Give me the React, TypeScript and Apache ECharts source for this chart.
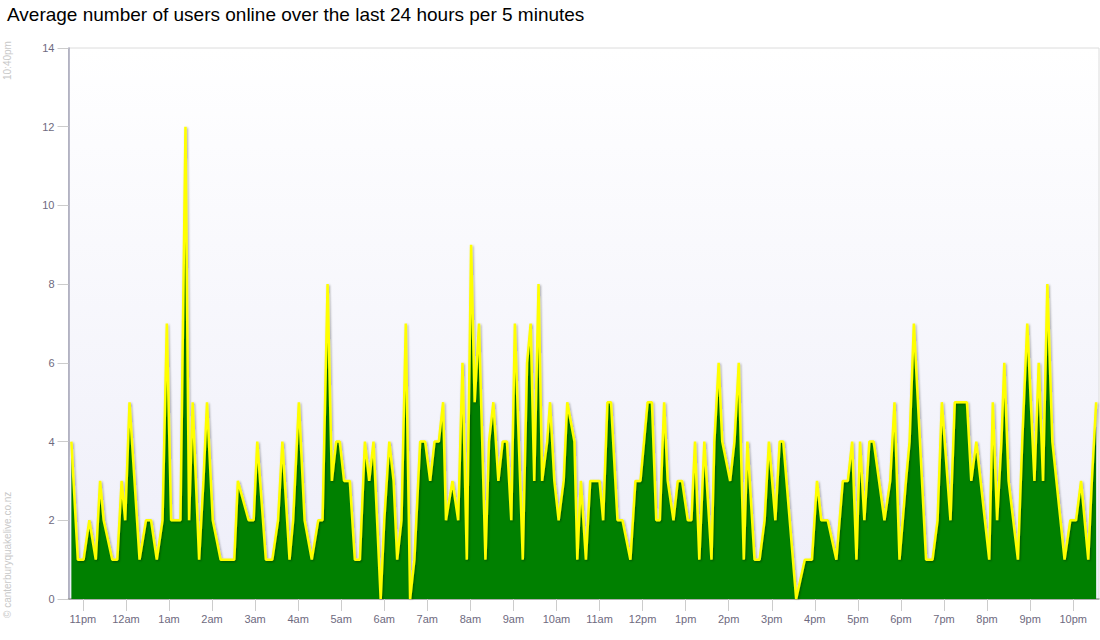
import React, { useRef, useEffect } from "react";
import * as echarts from "echarts";

// minutes after 10:40pm (start of the 24h window) and average users online
const MINUTES = [
  4, 13, 21, 29, 38, 44, 49, 61, 68, 74, 79, 85, 99, 108, 115, 123, 131, 137, 143, 156, 163, 168, 173,
  182, 188, 193, 201, 212, 231, 236, 251, 258, 263, 275, 284, 292, 298, 308, 313, 321, 329, 339, 348, 354,
  361, 367, 373, 378, 384, 392, 399, 406, 413, 419, 425, 435, 440, 447, 453, 458, 464, 470, 476, 482, 490,
  497, 504, 510, 516, 522, 526, 535,
  543, 549, 555, 561, 566, 572, 581, 586, 592, 599, 605, 611, 617, 622, 633, 639, 644, 649, 655, 660, 667,
  671, 677, 683, 690, 695, 705, 709, 714,
  721, 727, 740, 745, 751, 756, 765, 772, 783, 790, 797, 802, 807, 813, 819, 824, 830, 835, 843, 849, 855,
  863, 868, 873, 879, 886, 896,
  900, 906, 911, 922, 928, 934, 941, 946, 956, 963, 970, 976, 985, 991, 996, 1014, 1026, 1036, 1043, 1049,
  1058, 1070, 1079,
  1086, 1092, 1098, 1103, 1109, 1116, 1122, 1137, 1145, 1151, 1158, 1167, 1172, 1178, 1195, 1204, 1211,
  1217, 1229, 1235, 1252, 1258,
  1265, 1283, 1288, 1294, 1300, 1304, 1310, 1323, 1329, 1336, 1346, 1352, 1358, 1364, 1371, 1388, 1396,
  1404, 1411, 1421, 1426, 1432,
];

const USERS = [
  4, 1, 1, 2, 1, 3, 2, 1, 1, 3, 2, 5, 1, 2, 2, 1, 2, 7, 2, 2, 12, 2, 5,
  1, 3, 5, 2, 1, 1, 3, 2, 2, 4, 1, 1, 2, 4, 1, 2, 5, 2, 1, 2, 2,
  8, 3, 4, 4, 3, 3, 1, 1, 4, 3, 4, 0, 2, 4, 3, 1, 2, 7, 0, 1, 4, 4, 3, 4, 4, 5, 2, 3,
  2, 6, 1, 9, 5, 7, 1, 4, 5, 3, 4, 4, 2, 7, 1, 6, 7, 3, 8, 3, 4, 5, 3, 2, 3, 5, 4, 1, 3,
  1, 3, 3, 2, 5, 5, 2, 2, 1, 3, 3, 4, 5, 5, 2, 2, 5, 3, 2, 3, 3, 2, 2, 4, 1, 4, 1,
  4, 6, 4, 3, 4, 6, 1, 4, 1, 1, 2, 4, 2, 4, 4, 0, 1, 1, 3, 2, 2, 1, 3,
  3, 4, 1, 4, 2, 4, 4, 2, 3, 5, 1, 3, 4, 7, 1, 1, 2, 5, 2, 5, 5, 3,
  4, 1, 5, 2, 4, 6, 3, 1, 4, 7, 3, 6, 3, 8, 4, 1, 2, 2, 3, 1, 3, 5,
];

const HOUR_LABELS = [
  "11pm", "12am", "1am", "2am", "3am", "4am", "5am", "6am", "7am", "8am", "9am", "10am",
  "11am", "12pm", "1pm", "2pm", "3pm", "4pm", "5pm", "6pm", "7pm", "8pm", "9pm", "10pm",
];
const FIRST_HOUR_MIN = 20; // 11pm is 20 minutes after 10:40pm
const WINDOW_MIN = 1436;

const TITLE = "Average number of users online over the last 24 hours per 5 minutes";
const START_LABEL = "10:40pm";
const CREDIT = "\u00a9 canterburyquakelive.co.nz";

const FONT = "'Liberation Sans', Arial, Helvetica, sans-serif";

const App: React.FC = () => {
  const ref = useRef<HTMLDivElement>(null);

  useEffect(() => {
    document.body.style.margin = "0";
    if (!ref.current) return;
    const chart = echarts.init(ref.current, null, { renderer: "svg" });

    const hourTicks = HOUR_LABELS.map((_, i) => FIRST_HOUR_MIN + i * 60);
    const data = MINUTES.map((m, i) => [m, USERS[i]]);

    chart.setOption({
      animation: false,
      title: {
        text: TITLE,
        left: 2,
        top: 0,
        textStyle: { fontFamily: FONT, fontSize: 19, fontWeight: "normal", color: "#000" },
      },
      grid: {
        left: 68.5,
        right: 1,
        top: 48,
        bottom: 41,
        show: true,
        borderColor: "#dcdcdc",
        borderWidth: 1,
        backgroundColor: new echarts.graphic.LinearGradient(0, 0, 0, 1, [
          { offset: 0, color: "#ffffff" },
          { offset: 1, color: "#eeeef9" },
        ]),
      },
      xAxis: {
        type: "value",
        min: 0,
        max: WINDOW_MIN,
        splitLine: { show: false },
        axisLine: { show: true, lineStyle: { color: "#9a9a9a", width: 1.5 } },
        axisTick: {
          show: true,
          length: 12,
          customValues: hourTicks,
          lineStyle: { color: "#cccccc" },
        },
        axisLabel: {
          customValues: hourTicks,
          margin: 14,
          fontFamily: FONT,
          fontSize: 11,
          color: "#6e6a80",
          formatter: (v: number) => HOUR_LABELS[Math.round((v - FIRST_HOUR_MIN) / 60)] ?? "",
        },
      },
      yAxis: {
        type: "value",
        min: 0,
        max: 14,
        interval: 2,
        splitLine: { show: false },
        axisLine: { show: true, lineStyle: { color: "#a4a4b8", width: 1.5 } },
        axisTick: { show: true, length: 11, lineStyle: { color: "#cccccc" } },
        axisLabel: {
          margin: 14,
          fontFamily: FONT,
          fontSize: 11,
          color: "#6e6a80",
        },
      },
      graphic: [
        {
          type: "text",
          x: 7,
          y: 80,
          rotation: Math.PI / 2,
          style: {
            text: START_LABEL,
            fontFamily: FONT,
            fontSize: 10,
            fill: "#c8c8c8",
            textAlign: "left",
            textVerticalAlign: "middle",
          },
        },
        {
          type: "text",
          x: 7,
          y: 618,
          rotation: Math.PI / 2,
          style: {
            text: CREDIT,
            fontFamily: FONT,
            fontSize: 10,
            fill: "#c8c8c8",
            textAlign: "left",
            textVerticalAlign: "middle",
          },
        },
      ],
      series: [
        {
          type: "line",
          data,
          symbol: "none",
          lineStyle: {
            color: "#ffff00",
            width: 2.5,
            shadowColor: "rgba(0,0,0,0.35)",
            shadowBlur: 2,
            shadowOffsetX: 1,
            shadowOffsetY: 1,
          },
          areaStyle: { color: "#008000", opacity: 1 },
        },
      ],
    });

    return () => chart.dispose();
  }, []);

  return <div ref={ref} style={{ width: 1100, height: 640 }} />;
};

export default App;
